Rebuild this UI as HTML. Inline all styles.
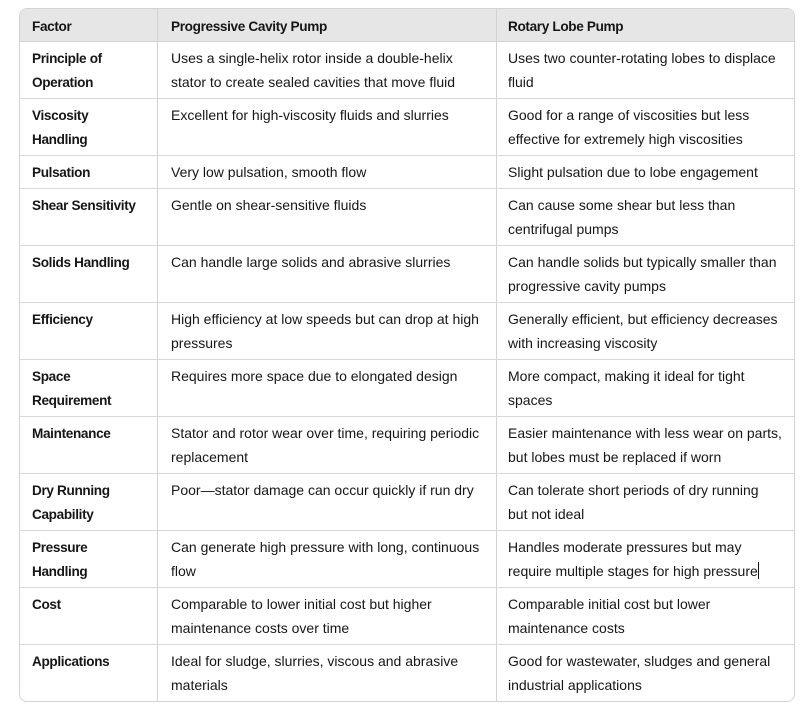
<!DOCTYPE html>
<html><head><meta charset="utf-8">
<style>
html,body{margin:0;padding:0;background:#fff;}
body{width:808px;height:709px;position:relative;overflow:hidden;font-family:"Liberation Sans",Arial,sans-serif;color:#161616;}
.tbl{position:absolute;left:19px;top:8px;width:774px;height:692px;border:1px solid #d3d3d3;border-radius:8px;overflow:hidden;}
.hdr{position:absolute;left:0;top:0;width:774px;height:32px;background:#e6e6e6;border-bottom:1px solid #d3d3d3;}
.vl{position:absolute;top:0;width:1px;height:692px;background:#d3d3d3;}
.hl{position:absolute;left:0;width:774px;height:1px;background:#d8d8d8;}
.c{position:absolute;white-space:nowrap;line-height:24px;font-size:14px;}
.b{font-weight:bold;font-size:13.6px;letter-spacing:-0.35px;margin-top:1px;}
.cur{position:absolute;left:758px;top:562px;width:1px;height:17px;background:#111;}
</style></head><body>
<div class="tbl">
<div class="hdr"></div>
<div class="vl" style="left:137px"></div>
<div class="vl" style="left:476px"></div>
<div class="hl" style="top:89px"></div>
<div class="hl" style="top:146px"></div>
<div class="hl" style="top:179px"></div>
<div class="hl" style="top:236px"></div>
<div class="hl" style="top:293px"></div>
<div class="hl" style="top:350px"></div>
<div class="hl" style="top:407px"></div>
<div class="hl" style="top:464px"></div>
<div class="hl" style="top:521px"></div>
<div class="hl" style="top:578px"></div>
<div class="hl" style="top:635px"></div>
</div>

<!-- header -->
<div class="c b" style="left:32px;top:14px">Factor</div>
<div class="c b" style="left:171px;top:14px">Progressive Cavity Pump</div>
<div class="c b" style="left:508px;top:14px">Rotary Lobe Pump</div>

<div class="c b" style="left:32px;top:46px">Principle of<br>Operation</div>
<div class="c" style="left:171px;top:46px">Uses a single-helix rotor inside a double-helix<br>stator to create sealed cavities that move fluid</div>
<div class="c" style="left:508px;top:46px">Uses two counter-rotating lobes to displace<br>fluid</div>

<div class="c b" style="left:32px;top:103px">Viscosity<br>Handling</div>
<div class="c" style="left:171px;top:103px">Excellent for high-viscosity fluids and slurries</div>
<div class="c" style="left:508px;top:103px">Good for a range of viscosities but less<br>effective for extremely high viscosities</div>

<div class="c b" style="left:32px;top:160px">Pulsation</div>
<div class="c" style="left:171px;top:160px">Very low pulsation, smooth flow</div>
<div class="c" style="left:508px;top:160px">Slight pulsation due to lobe engagement</div>

<div class="c b" style="left:32px;top:193px">Shear Sensitivity</div>
<div class="c" style="left:171px;top:193px">Gentle on shear-sensitive fluids</div>
<div class="c" style="left:508px;top:193px">Can cause some shear but less than<br>centrifugal pumps</div>

<div class="c b" style="left:32px;top:250px">Solids Handling</div>
<div class="c" style="left:171px;top:250px">Can handle large solids and abrasive slurries</div>
<div class="c" style="left:508px;top:250px">Can handle solids but typically smaller than<br>progressive cavity pumps</div>

<div class="c b" style="left:32px;top:307px">Efficiency</div>
<div class="c" style="left:171px;top:307px">High efficiency at low speeds but can drop at high<br>pressures</div>
<div class="c" style="left:508px;top:307px">Generally efficient, but efficiency decreases<br>with increasing viscosity</div>

<div class="c b" style="left:32px;top:364px">Space<br>Requirement</div>
<div class="c" style="left:171px;top:364px">Requires more space due to elongated design</div>
<div class="c" style="left:508px;top:364px">More compact, making it ideal for tight<br>spaces</div>

<div class="c b" style="left:32px;top:421px">Maintenance</div>
<div class="c" style="left:171px;top:421px">Stator and rotor wear over time, requiring periodic<br>replacement</div>
<div class="c" style="left:508px;top:421px">Easier maintenance with less wear on parts,<br>but lobes must be replaced if worn</div>

<div class="c b" style="left:32px;top:478px">Dry Running<br>Capability</div>
<div class="c" style="left:171px;top:478px">Poor—stator damage can occur quickly if run dry</div>
<div class="c" style="left:508px;top:478px">Can tolerate short periods of dry running<br>but not ideal</div>

<div class="c b" style="left:32px;top:535px">Pressure<br>Handling</div>
<div class="c" style="left:171px;top:535px">Can generate high pressure with long, continuous<br>flow</div>
<div class="c" style="left:508px;top:535px">Handles moderate pressures but may<br>require multiple stages for high pressure</div>
<div class="cur"></div>

<div class="c b" style="left:32px;top:592px">Cost</div>
<div class="c" style="left:171px;top:592px">Comparable to lower initial cost but higher<br>maintenance costs over time</div>
<div class="c" style="left:508px;top:592px">Comparable initial cost but lower<br>maintenance costs</div>

<div class="c b" style="left:32px;top:649px">Applications</div>
<div class="c" style="left:171px;top:649px">Ideal for sludge, slurries, viscous and abrasive<br>materials</div>
<div class="c" style="left:508px;top:649px">Good for wastewater, sludges and general<br>industrial applications</div>
</body></html>
